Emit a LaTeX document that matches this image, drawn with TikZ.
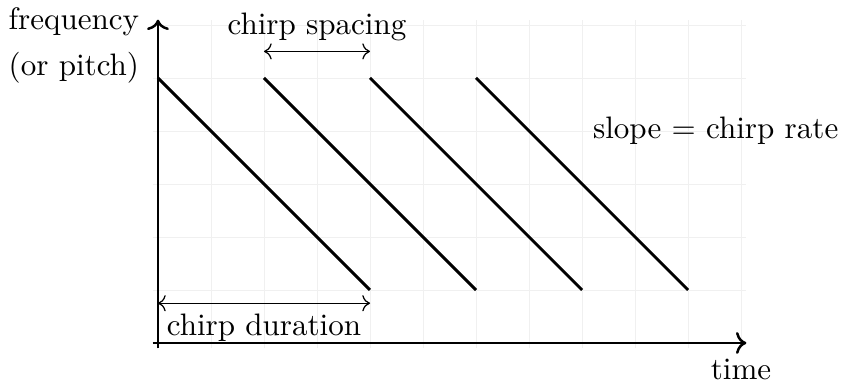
\documentclass[tikz,border=0pt]{standalone}
\usepackage{tikz}
\usetikzlibrary{positioning,arrows.meta}

\begin{document}
\begin{tikzpicture}[x=0.6cm,y=0.6cm,
  chirp/.style={line width=0.95pt},
  dimarrow/.style={<->,thin}]
\useasboundingbox (-2.98,-0.85) rectangle (12.96,6.47);
% background grid
\draw[gray!12,very thin,step=1] (-0.1,-0.1) grid (11.1,6.1);
% axes
\coordinate (o) at (0,0);
\coordinate (xend) at (11.1,0);
\coordinate (yend) at (0,6.1);
\draw[thick,->] (-0.1,0) -- (xend);
\draw[thick,->] (0,-0.1) -- (yend);
\node[below] (tlabel) at (11,-0.1) {time};
\node[left,align=center] (flabel) at (-0.15,5.61) {frequency\\[2.6pt](or pitch)};
% chirps: start at 5, end at 1, every 2 units
\foreach \s in {0,2,4,6} {
  \coordinate (c\s a) at (\s,5);
  \coordinate (c\s b) at (\s+4,1);
  \draw[chirp] (c\s a) -- (c\s b);
}
% spacing between chirp starts
\coordinate (sp1) at (2,5.5);
\coordinate (sp2) at (4,5.5);
\draw[dimarrow] (sp1) -- (sp2) node[midway,above] (splabel) {chirp spacing};
% duration of one chirp
\coordinate (du1) at (0,0.75);
\coordinate (du2) at (4,0.75);
\draw[dimarrow] (du1) -- (du2) node[midway,below] (dulabel) {chirp duration};
\node[right] (slabel) at (8,4) {slope $=$ chirp rate};
\end{tikzpicture}
\end{document}
